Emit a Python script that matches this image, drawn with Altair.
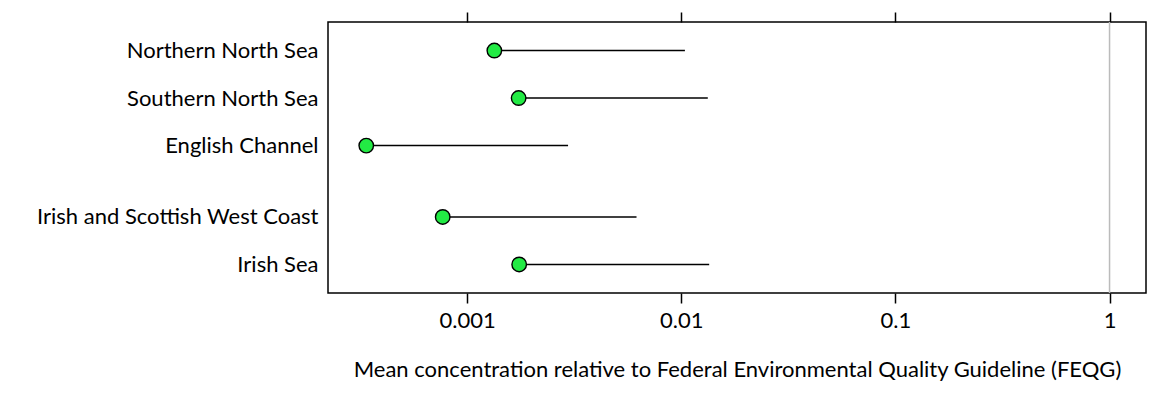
import altair as alt
import pandas as pd
import json

regions = ["Northern North Sea", "Southern North Sea", "English Channel",
           "Irish and Scottish West Coast", "Irish Sea"]
mean_vals = [0.00134, 0.00174, 0.000338, 0.000769, 0.00175]
upper_vals = [0.0104, 0.0133, 0.00296, 0.00618, 0.0135]
tick_vals = [0.001, 0.01, 0.1, 1]
tick_labels = ["0.001", "0.01", "0.1", "1"]

# row layout: a gap of half a row between the North Sea group and the west group
pos = []
p = 0.0
for i, r in enumerate(regions):
    pos.append(p)
    p += 1.5 if i == 2 else 1.0

df = pd.DataFrame({"region": regions, "mean": mean_vals, "upper": upper_vals, "pos": pos})

label_expr = "''"
for k, v in reversed(list(zip(pos, regions))):
    label_expr = f"abs(datum.value - {k}) < 0.01 ? {json.dumps(v)} : ({label_expr})"
tick_expr = "''"
for k, v in reversed(list(zip(tick_vals, tick_labels))):
    tick_expr = f"abs(datum.value / {k} - 1) < 0.01 ? {json.dumps(v)} : ({tick_expr})"

FONT = "Lato"
FS = 22
xscale = alt.Scale(type="log", domain=[0.000224, 1.48], nice=False)
yscale = alt.Scale(domain=[-0.6, 5.1], reverse=True, nice=False, zero=False)

base = alt.Chart(df)

ax_bottom = alt.Axis(values=tick_vals, orient="bottom", domain=False, grid=False,
                     tickSize=10, tickWidth=1.5, tickColor="black",
                     labelFont=FONT, labelFontSize=FS, labelColor="black", labelPadding=7,
                     labelExpr=tick_expr,
                     title="Mean concentration relative to Federal Environmental Quality Guideline (FEQG)",
                     titleFont=FONT, titleFontSize=FS, titleFontWeight="normal", titleColor="black",
                     titlePadding=28)
ax_top = alt.Axis(values=tick_vals, orient="top", domain=False, grid=False, labels=False,
                  tickSize=10, tickWidth=1.5, tickColor="black", title=None)
yaxis = alt.Axis(values=pos, labelExpr=label_expr, domain=False, ticks=False, grid=False,
                 labelFont=FONT, labelFontSize=FS, labelColor="black", labelPadding=10,
                 labelLimit=400, title=None)

Y = alt.Y("pos:Q", scale=yscale, axis=yaxis)

rules = base.mark_rule(color="black", strokeWidth=1.5).encode(
    x=alt.X("mean:Q", scale=xscale, axis=ax_bottom),
    x2="upper:Q",
    y=Y,
)
points = base.mark_circle(size=210, color="#22ea44", opacity=1, stroke="black", strokeWidth=1.4).encode(
    x=alt.X("mean:Q", scale=xscale, axis=ax_top),
    y=Y,
)
ref = alt.Chart(pd.DataFrame({"v": [1.0]})).mark_rule(color="#bbbbbb", strokeWidth=1.5).encode(
    x=alt.X("v:Q", scale=xscale, axis=None),
)

chart = alt.layer(ref, rules, points).resolve_axis(x="independent").resolve_scale(x="shared", y="shared").properties(
    width=818, height=271,
    autosize=alt.AutoSizeParams(type="none"),
    padding={"left": 320, "top": 14, "right": 10, "bottom": 90},
    background="white",
).configure_view(stroke="black", strokeWidth=1.5)

chart.save("out.html", embed_options={"renderer": "svg", "actions": False})
